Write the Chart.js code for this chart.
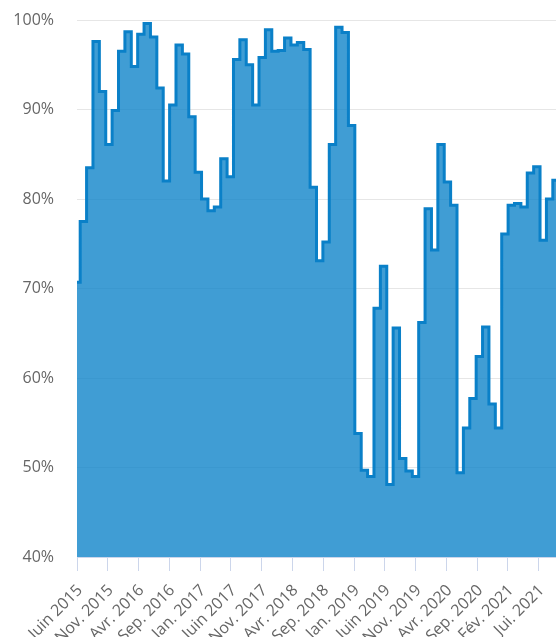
<!DOCTYPE html>
<html><head><meta charset="utf-8">
<script src="https://cdn.jsdelivr.net/npm/chart.js@4/dist/chart.umd.min.js"></script>
<style>html,body{margin:0;padding:0;background:#fff;overflow:hidden}
#wrap{position:relative;width:556px;height:637px}</style>
</head><body><div id="wrap"><canvas id="c" width="556" height="637"></canvas></div>
<script>
// monthly rate, June 2015 .. September 2021 (percent)
const values = [
  70.7, 77.5, 83.5, 97.6, 92.0, 86.1, 89.9, 96.5, 98.7, 94.8,
  98.4, 99.6, 98.1, 92.4, 82.0, 90.5, 97.2, 96.2, 89.2, 83.0,
  80.0, 78.7, 79.1, 84.5, 82.5, 95.6, 97.8, 95.0, 90.5, 95.8,
  98.9, 96.5, 96.6, 98.0, 97.2, 97.5, 96.7, 81.3, 73.1, 75.2,
  86.1, 99.2, 98.6, 88.2, 53.8, 49.7, 49.0, 67.8, 72.5, 48.1,
  65.6, 51.0, 49.6, 49.0, 66.2, 78.9, 74.3, 86.1, 81.9, 79.3,
  49.4, 54.4, 57.7, 62.4, 65.7, 57.1, 54.4, 76.1, 79.3, 79.5,
  79.1, 82.9, 83.6, 75.4, 80.0, 82.1
];
const tickLabels = ['Juin 2015','Nov. 2015','Avr. 2016','Sep. 2016','Jan. 2017','Juin 2017',
  'Nov. 2017','Avr. 2018','Sep. 2018','Jan. 2019','Juin 2019','Nov. 2019','Avr. 2020',
  'Sep. 2020','Fév. 2021','Jui. 2021'];
const tickStep = 4.82;          // months between labelled ticks
const yMin = 40, yMax = 100, yStep = 10;

const points = values.map((v, i) => ({ x: i, y: v }));
const font = { family: "'Open Sans', 'DejaVu Sans', sans-serif", size: 16 };

new Chart(document.getElementById('c'), {
  type: 'line',
  data: { datasets: [{
    data: points,
    stepped: 'middle',
    borderColor: '#0a80c8',
    borderWidth: 3,
    backgroundColor: 'rgba(10,130,200,0.78)',
    fill: 'start',
    pointRadius: 0,
    pointHoverRadius: 0
  }]},
  options: {
    responsive: false,
    animation: false,
    devicePixelRatio: 1,
    layout: { padding: { top: 20, left: 0, right: 0, bottom: 0 } },
    plugins: { legend: { display: false }, tooltip: { enabled: false } },
    scales: {
      x: {
        type: 'linear',
        min: 0,
        max: values.length - 1,
        afterBuildTicks: s => { s.ticks = tickLabels.map((l, k) => ({ value: k * tickStep })); },
        afterFit: s => { s.height = 80; s.paddingLeft = 0; s.paddingRight = 0; },
        ticks: {
          autoSkip: false, minRotation: 45, maxRotation: 45,
          callback: (v, i) => tickLabels[i],
          color: '#666666', font: font, padding: 10, labelOffset: 3
        },
        grid: { drawOnChartArea: false, drawTicks: true, tickLength: 14, tickColor: '#ccd6eb', color: '#ccd6eb' },
        border: { display: true, color: '#ccd6eb' }
      },
      y: {
        min: yMin, max: yMax,
        afterFit: s => { s.width = 77; s.paddingTop = 0; s.paddingBottom = 0; },
        ticks: { stepSize: yStep, callback: v => v + '%', color: '#666666', font: font, padding: 23 },
        grid: { color: '#e6e6e6', drawTicks: false },
        border: { display: false }
      }
    }
  }
});
</script>
</body></html>
